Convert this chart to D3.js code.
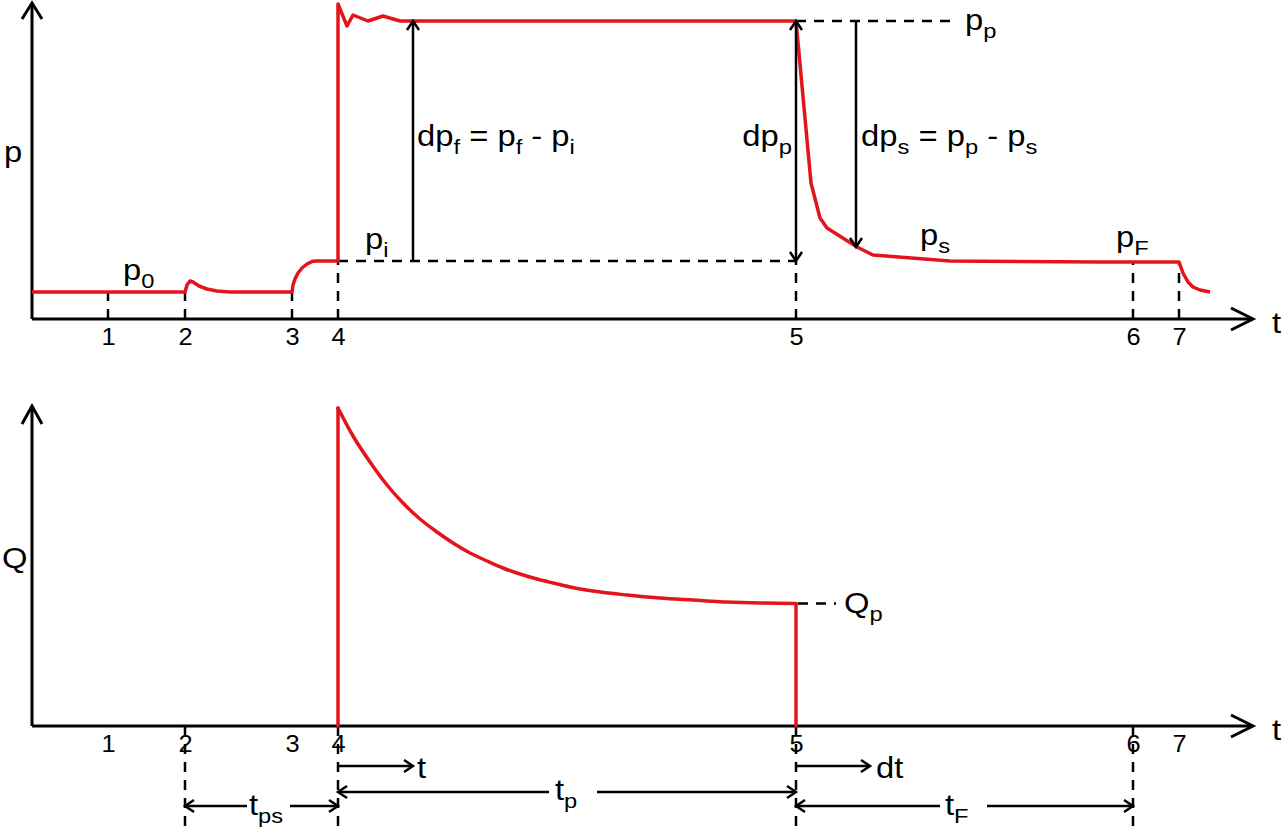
<!DOCTYPE html>
<html>
<head>
<meta charset="utf-8">
<script src="https://cdn.jsdelivr.net/npm/d3@7/dist/d3.min.js"></script>
<style>
  html, body { margin: 0; padding: 0; background: #fff; }
  svg { display: block; }
  text { font-family: "Liberation Sans", Arial, sans-serif; fill: #000; }
</style>
</head>
<body>
<svg id="chart" width="1287" height="834"></svg>
<script>
// ---------------- data ----------------
const eventTimes  = [7.6, 15.3, 26.0, 30.6, 76.4, 110.1, 114.7];
const eventLabels = ["1", "2", "3", "4", "5", "6", "7"];
const tMax = 122.1;

// pressure trace (t, p)
const pressureT = [0, 15.3, 15.5, 15.8, 16.1, 16.7, 17.5, 18.5, 19.8,
                   26.0, 26.1, 26.3, 26.6, 27.0, 27.5, 28.0, 28.4, 30.6,
                   30.6, 31.5, 32.1, 33.6, 35.1, 36.8, 76.4,
                   77.9, 78.8, 79.5, 82.5, 84.1, 91.8, 106.8,
                   114.7, 115.1, 115.6, 116.1, 116.8, 117.8];
const pressureP = [2.7, 2.7, 3.4, 3.8, 3.7, 3.3, 3.0, 2.8, 2.7,
                   2.7, 3.4, 4.0, 4.6, 5.1, 5.5, 5.75, 5.8, 5.8,
                   31.5, 29.3, 30.4, 29.8, 30.3, 29.8, 29.8,
                   13.6, 10.1, 9.1, 7.2, 6.4, 5.8, 5.7,
                   5.7, 4.6, 3.7, 3.2, 2.9, 2.7];

// flow-rate trace (t, Q)
const flowT = [30.6, 30.6, 32.1, 33.8, 35.5, 37.1, 38.8, 40.5, 42.1, 43.8, 45.5, 47.1, 48.8,
               50.5, 52.1, 53.8, 56.1, 59.5, 62.8, 66.1, 69.5, 72.8, 76.4, 76.4];
const flowQ = [0, 31.8, 29.0, 26.4, 24.1, 22.3, 20.7, 19.4, 18.3, 17.3, 16.5, 15.8, 15.2,
               14.7, 14.3, 13.9, 13.5, 13.1, 12.8, 12.6, 12.4, 12.3, 12.25, 0];

// characteristic levels
const p0 = 2.7, pI = 5.8, pP = 29.8, pS = 7.2, pF = 5.7, pMax = 31.6;
const qP = 12.25, qMax = 32;
const tDpf = 38.1, tDps = 82.4, tPpEnd = 91.8, tArrowT = 38.1, tArrowDt = 83.8;

// ---------------- drawing ----------------
const RED = "#e3141b";
const svg = d3.select("#chart");

const x  = d3.scaleLinear().domain([0, tMax]).range([32, 1253]);
const yP = d3.scaleLinear().domain([0, pMax]).range([319, 3]);
const yQ = d3.scaleLinear().domain([0, qMax]).range([726, 406]);

const SX = 1.13;          // horizontal stretch of the reference lettering
const MAIN = 29, SUB = 21, SHIFT = 8;

function line(g, x1, y1, x2, y2, w, dash, color) {
  const l = g.append("line").attr("x1", x1).attr("y1", y1).attr("x2", x2).attr("y2", y2)
    .attr("stroke", color || "#000").attr("stroke-width", w);
  if (dash) l.attr("stroke-dasharray", dash);
  return l;
}
function head(g, tx, ty, dir, len, hw, w) {
  const [dx, dy] = dir;
  const bx = tx - dx * len, by = ty - dy * len;
  const px = -dy * hw, py = dx * hw;
  g.append("path")
    .attr("d", `M${bx + px},${by + py}L${tx},${ty}L${bx - px},${by - py}`)
    .attr("fill", "none").attr("stroke", "#000").attr("stroke-width", w)
    .attr("stroke-linejoin", "miter").attr("stroke-linecap", "butt");
}
function label(g, px, py, segs, anchor) {
  const t = g.append("g").attr("transform", `translate(${px},${py}) scale(${SX},1)`)
    .append("text").attr("x", 0).attr("y", 0)
    .attr("font-size", MAIN).style("white-space", "pre")
    .attr("text-anchor", anchor || "start");
  let down = false;
  segs.forEach(s => {
    const sub = typeof s !== "string";
    const txt = sub ? s.sub : s;
    const ts = t.append("tspan").text(txt);
    if (sub) ts.attr("font-size", SUB);
    if (sub && !down) { ts.attr("dy", SHIFT); down = true; }
    else if (!sub && down) { ts.attr("dy", -SHIFT); down = false; }
  });
  return t;
}
function styleTicks(ax) {
  ax.select(".domain").remove();
  ax.selectAll("text").attr("font-size", 24)
    .attr("font-family", "Liberation Sans, Arial, sans-serif").attr("fill", "#000")
    .attr("transform", "scale(1.06,1)");
}

const DASH = "10,8";

// ===== top panel =====
const gTop = svg.append("g");
line(gTop, x(0), yP(0), x(tMax), yP(0), 3);
line(gTop, x(0), yP(0), x(0), yP(pMax), 3);
head(gTop, x(tMax), yP(0), [1, 0], 22, 11, 3);
head(gTop, x(0), yP(pMax), [0, -1], 16, 10, 3);

const axTop = gTop.append("g").attr("transform", `translate(0,${yP(0)})`)
  .call(d3.axisBottom(x).tickValues(eventTimes).tickFormat((d, i) => eventLabels[i])
        .tickSize(0).tickPadding(9));
styleTicks(axTop);

const pAtEvent = [p0, p0, p0, pI, pI, pF, pF];
eventTimes.forEach((t, i) => line(gTop, x(t), yP(0), x(t), yP(pAtEvent[i]), 2.5, DASH));
line(gTop, x(eventTimes[3]), yP(pI), x(eventTimes[4]), yP(pI), 2.5, DASH);
line(gTop, x(eventTimes[4]), yP(pP), x(tPpEnd), yP(pP), 2.5, DASH);

const pData = pressureT.map((t, i) => [t, pressureP[i]]);
gTop.append("path").datum(pData)
  .attr("d", d3.line().x(d => x(d[0])).y(d => yP(d[1])))
  .attr("fill", "none").attr("stroke", RED).attr("stroke-width", 3.5)
  .attr("stroke-linejoin", "round");

line(gTop, x(tDpf), yP(pI), x(tDpf), yP(pP) + 1, 2.5);
head(gTop, x(tDpf), yP(pP), [0, -1], 9, 6, 2.5);
line(gTop, x(eventTimes[4]), yP(pP) + 1, x(eventTimes[4]), yP(pI) - 1, 2.5);
head(gTop, x(eventTimes[4]), yP(pP), [0, -1], 9, 6, 2.5);
head(gTop, x(eventTimes[4]), yP(pI), [0, 1], 9, 6, 2.5);
line(gTop, x(tDps), yP(pP), x(tDps), yP(pS) - 1, 2.5);
head(gTop, x(tDps), yP(pS), [0, 1], 9, 6, 2.5);

label(gTop, 4, 162, ["p"]);
label(gTop, 1272, 333, ["t"]);
label(gTop, 123, 280, ["p", {sub: "0"}]);
label(gTop, 365, 249, ["p", {sub: "i"}]);
label(gTop, x(tDpf) + 4, 146, ["dp", {sub: "f"}, " = p", {sub: "f"}, " - p", {sub: "i"}]);
label(gTop, x(eventTimes[4]) - 4, 146, ["dp", {sub: "p"}], "end");
label(gTop, x(tDps) + 5, 146, ["dp", {sub: "s"}, " = p", {sub: "p"}, " - p", {sub: "s"}]);
label(gTop, 965, 30, ["p", {sub: "p"}]);
label(gTop, 920, 245, ["p", {sub: "s"}]);
label(gTop, 1116, 247, ["p", {sub: "F"}]);

// ===== bottom panel =====
const gBot = svg.append("g");
line(gBot, x(0), yQ(0), x(tMax), yQ(0), 3);
line(gBot, x(0), yQ(0), x(0), yQ(qMax), 3);
head(gBot, x(tMax), yQ(0), [1, 0], 22, 11, 3);
head(gBot, x(0), yQ(qMax), [0, -1], 18, 10, 3);

const axBot = gBot.append("g").attr("transform", `translate(0,${yQ(0)})`)
  .call(d3.axisBottom(x).tickValues(eventTimes).tickFormat((d, i) => eventLabels[i])
        .tickSize(0).tickPadding(9));
styleTicks(axBot);

[1, 3, 4, 5].forEach(i => line(gBot, x(eventTimes[i]), yQ(0), x(eventTimes[i]), 834, 2.5, DASH));

const qData = flowT.map((t, i) => [t, flowQ[i]]);
const n = qData.length;
const qLin = d3.line().x(d => x(d[0])).y(d => yQ(d[1]));
const qSmooth = d3.line().x(d => x(d[0])).y(d => yQ(d[1])).curve(d3.curveMonotoneX);
[[qLin, qData.slice(0, 2)], [qSmooth, qData.slice(1, n - 1)], [qLin, qData.slice(n - 2)]]
  .forEach(([gen, seg]) => gBot.append("path").datum(seg).attr("d", gen)
    .attr("fill", "none").attr("stroke", RED).attr("stroke-width", 3.5)
    .attr("stroke-linejoin", "round").attr("stroke-linecap", "round"));
line(gBot, x(eventTimes[4]) + 2, yQ(qP), x(eventTimes[4]) + 40, yQ(qP), 2.5, DASH);

label(gBot, 2, 568, ["Q"]);
label(gBot, 1272, 740, ["t"]);
label(gBot, 844, 613, ["Q", {sub: "p"}]);

const yA1 = 766, yA2 = 792, yA3 = 806;
line(gBot, x(eventTimes[3]), yA1, x(tArrowT) - 1, yA1, 2.5);
head(gBot, x(tArrowT), yA1, [1, 0], 9, 6, 2.5);
label(gBot, x(tArrowT) + 4, 778, ["t"]);
line(gBot, x(eventTimes[4]), yA1, x(tArrowDt) - 1, yA1, 2.5);
head(gBot, x(tArrowDt), yA1, [1, 0], 9, 6, 2.5);
label(gBot, x(tArrowDt) + 6, 778, ["dt"]);

function span(a, b, y, gap0, gap1, segs, lx, ly) {
  line(gBot, x(a) + 1, y, gap0, y, 2.5);
  line(gBot, gap1, y, x(b) - 1, y, 2.5);
  head(gBot, x(a), y, [-1, 0], 9, 6, 2.5);
  head(gBot, x(b), y, [1, 0], 9, 6, 2.5);
  label(gBot, lx, ly, segs);
}
span(eventTimes[1], eventTimes[3], yA3, 247, 290, ["t", {sub: "ps"}], 249, 815);
span(eventTimes[3], eventTimes[4], yA2, 549, 597, ["t", {sub: "p"}], 555, 800);
span(eventTimes[4], eventTimes[5], yA3, 940, 987, ["t", {sub: "F"}], 945, 815);
</script>
</body>
</html>
